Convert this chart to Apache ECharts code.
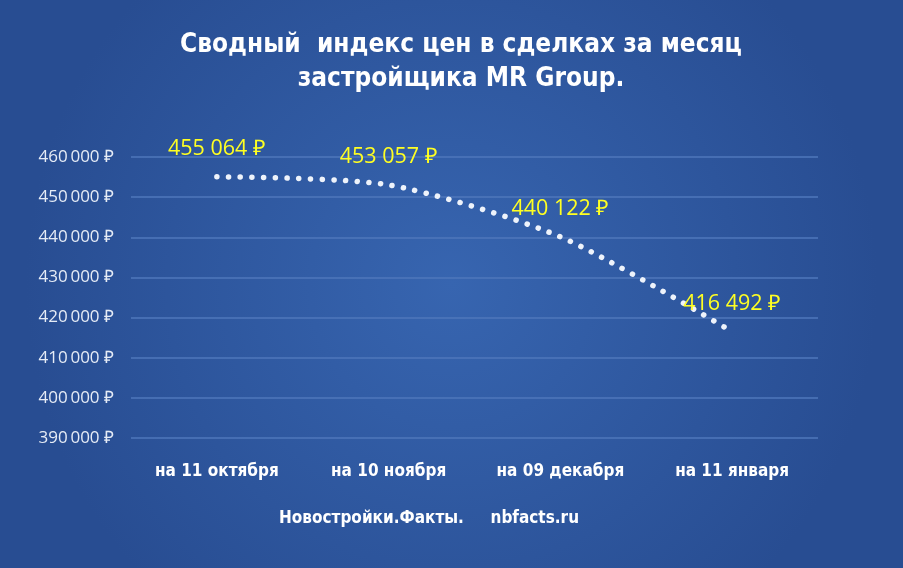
<!DOCTYPE html>
<html><head><meta charset="utf-8">
<script src="https://cdn.jsdelivr.net/npm/echarts@6/dist/echarts.min.js"></script>
<style>html,body{margin:0;padding:0;}#c{width:903px;height:568px;}</style>
</head><body><div id="c"></div>
<script>
const categories = ['на 11 октября', 'на 10 ноября', 'на 09 декабря', 'на 11 января'];
const values = [455064, 453057, 440122, 416492];
const yTicks = { min: 390000, max: 460000, interval: 10000 };
const titleText = 'Сводный  индекс цен в сделках за месяц\nзастройщика MR Group.';
const footerText = 'Новостройки.Факты.     nbfacts.ru';

const fmt = v => String(v).replace(/\B(?=(\d{3})+(?!\d))/g, '\u00a0') + ' ₽';
const fmtAxis = v => String(v).replace(/\B(?=(\d{3})+(?!\d))/g, '\u2009') + ' ₽';

const chart = echarts.init(document.getElementById('c'));
chart.setOption({
  backgroundColor: {
    type: 'radial', x: 0.5, y: 0.5, r: 0.75,
    colorStops: [{ offset: 0, color: '#3765b0' }, { offset: 1, color: '#284d92' }]
  },
  graphic: [{
    type: 'text', x: 461, y: 28,
    style: { text: titleText, fill: '#ffffff', align: 'center', verticalAlign: 'top',
             font: 'bold 26px "DejaVu Sans Condensed"', lineHeight: 34 }
  }, {
    type: 'text', left: 279, top: 510,
    style: { text: footerText, fill: '#ffffff', font: 'bold 17px "DejaVu Sans Condensed"' }
  }],
  grid: { left: 131, right: 85, top: 157, bottom: 130, containLabel: false },
  xAxis: {
    type: 'category', data: categories, boundaryGap: true,
    axisLine: { show: false }, axisTick: { show: false },
    axisLabel: { color: '#ffffff', fontFamily: 'DejaVu Sans Condensed', fontWeight: 'bold', fontSize: 17, margin: 25 }
  },
  yAxis: {
    type: 'value', min: yTicks.min, max: yTicks.max, interval: yTicks.interval,
    axisLine: { show: false }, axisTick: { show: false },
    splitLine: { lineStyle: { color: '#4f77bb', width: 1.5 } },
    axisLabel: { color: '#e6ecf6', fontFamily: 'Open Sans', fontSize: 17, margin: 17, formatter: fmtAxis }
  },
  series: [{
    type: 'line', data: values, smooth: 0.25, symbol: 'circle', symbolSize: 1, showSymbol: true,
    itemStyle: { opacity: 0 },
    lineStyle: { color: '#eef3fb', width: 5.5, type: [0.1, 11.6], cap: 'round' },
    label: {
      show: true, position: 'top', distance: 16, color: '#ffff22', opacity: 1,
      fontFamily: 'Open Sans', fontSize: 21.5, formatter: p => fmt(p.value)
    }
  }]
});
</script></body></html>
